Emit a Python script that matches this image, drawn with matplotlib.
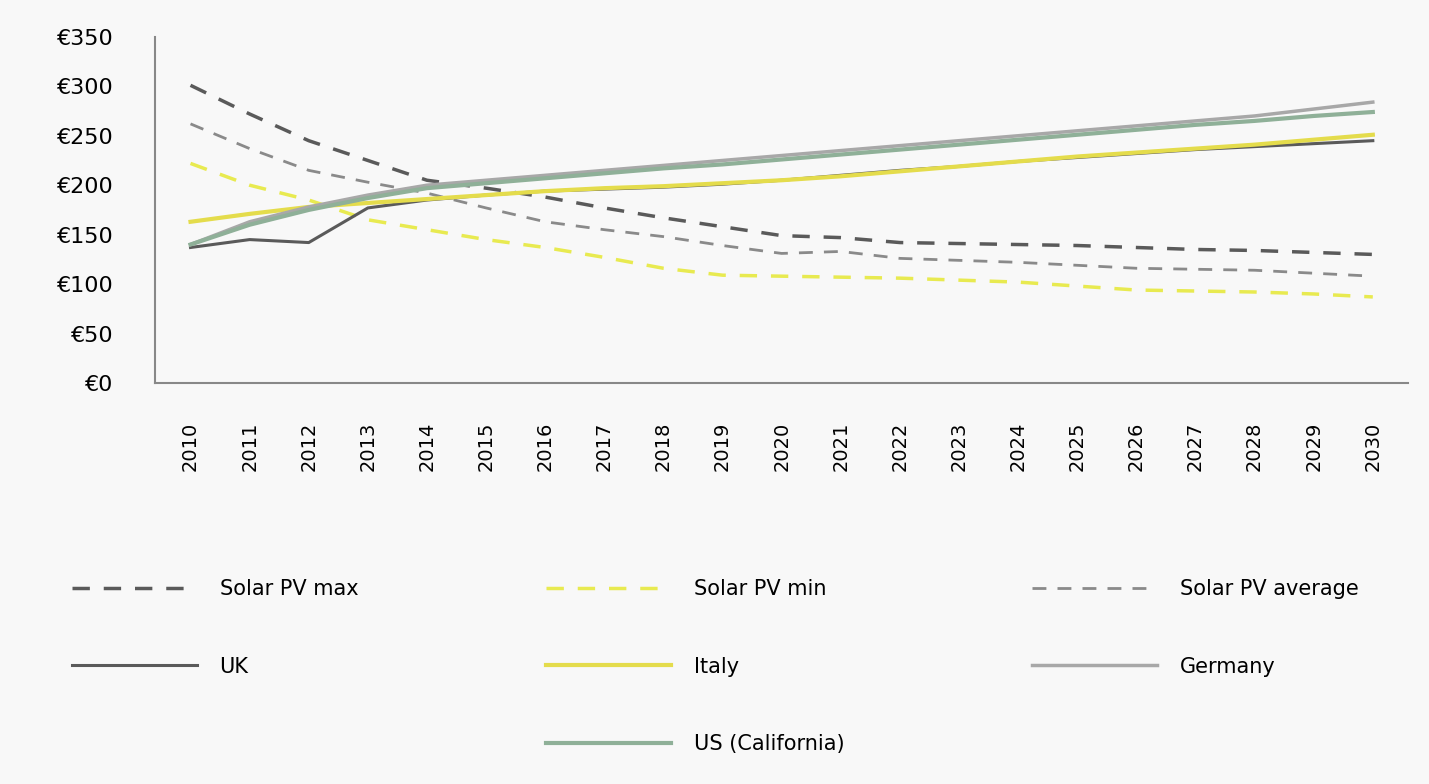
import matplotlib.pyplot as plt
from matplotlib.lines import Line2D

years = list(range(2010, 2031))

# euro values
pv_max = [301, 272, 245, 225, 205, 197, 188, 177, 167, 158, 149, 147, 142, 141, 140, 139, 137, 135, 134, 132, 130]
pv_min = [222, 200, 185, 165, 155, 145, 137, 127, 116, 109, 108, 107, 106, 104, 102, 98, 94, 93, 92, 90, 87]
pv_avg = [262, 237, 215, 203, 192, 177, 163, 155, 148, 139, 131, 133, 126, 124, 122, 119, 116, 115, 114, 111, 108]
uk = [137, 145, 142, 177, 185, 190, 194, 196, 198, 201, 205, 210, 215, 219, 224, 228, 232, 236, 239, 242, 245]
italy = [163, 171, 178, 182, 186, 190, 194, 197, 199, 202, 205, 209, 214, 219, 224, 229, 233, 237, 241, 246, 251]
germany = [140, 163, 178, 190, 200, 205, 210, 215, 220, 225, 230, 235, 240, 245, 250, 255, 260, 265, 270, 277, 284]
us_cal = [140, 160, 175, 187, 197, 202, 207, 212, 217, 221, 226, 231, 236, 241, 246, 251, 256, 261, 265, 270, 274]

yticks = [0, 50, 100, 150, 200, 250, 300, 350]

fig = plt.figure(figsize=(14.29, 7.84), dpi=100, facecolor='#f8f8f8')
ax = fig.add_axes([0.1085, 0.5115, 0.877, 0.4415])
ax.set_facecolor('#f8f8f8')

ax.plot(years, pv_max, color='#5a5a5a', lw=2.5, ls=(0, (5, 4)), label='Solar PV max')
ax.plot(years, pv_min, color='#e8ea50', lw=2.5, ls=(0, (5, 4)), label='Solar PV min')
ax.plot(years, pv_avg, color='#8a8a8a', lw=2.0, ls=(0, (5, 4)), label='Solar PV average')
ax.plot(years, uk, color='#5a5a5a', lw=2.2, label='UK')
ax.plot(years, italy, color='#e4dc4c', lw=3.0, label='Italy')
ax.plot(years, germany, color='#a8a8a8', lw=2.5, label='Germany')
ax.plot(years, us_cal, color='#8fb098', lw=3.0, label='US (California)')

ax.set_xlim(2009.4, 2030.6)
ax.set_ylim(0, 350)
ax.set_xticks(years)
ax.set_xticklabels([str(y) for y in years], rotation=90, fontsize=14)
ax.set_yticks(yticks)
ax.set_yticklabels(['€' + str(v) for v in yticks], fontsize=16)
ax.tick_params(axis='both', length=0)
ax.tick_params(axis='x', pad=28)
ax.tick_params(axis='y', pad=30)
for s in ['top', 'right']:
    ax.spines[s].set_visible(False)
for s in ['left', 'bottom']:
    ax.spines[s].set_color('#888888')
    ax.spines[s].set_linewidth(1.5)

# legend order: 8 entries so columns hold 3, 3, 2
h, l = ax.get_legend_handles_labels()
blank = Line2D([], [], color='none')
handles = [h[0], h[3], blank, h[1], h[4], h[6], h[2], h[5]]
labels = [l[0], l[3], '', l[1], l[4], l[6], l[2], l[5]]
fig.legend(handles, labels, ncol=3, loc='upper left', bbox_to_anchor=(0.037, 0.285),
           frameon=False, fontsize=15, handlelength=6.0, handletextpad=1.1,
           columnspacing=9.0, labelspacing=2.75)

fig.savefig('out.png', dpi=100, facecolor=fig.get_facecolor())
